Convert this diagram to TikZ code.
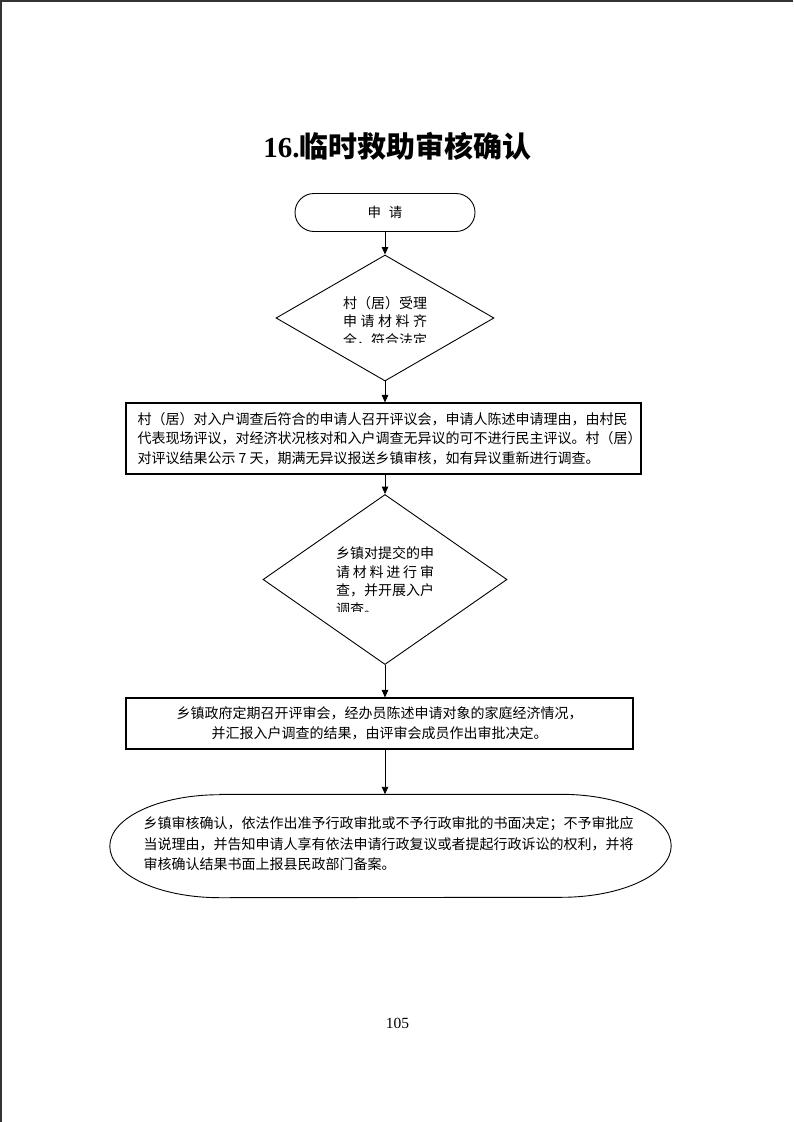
\documentclass[tikz,border=0pt]{standalone}
\usepackage{fontspec}
\setmainfont{Liberation Serif}
\newfontfamily\cjk{Noto Sans CJK SC}
\usetikzlibrary{shapes.geometric,shapes.misc,arrows.meta}
\XeTeXlinebreaklocale "zh"
\XeTeXlinebreakskip=0pt plus 2pt minus 0.6pt
\tikzset{
  term/.style={rounded rectangle, draw, line width=0.9pt, minimum width=180pt, minimum height=38pt, inner sep=0pt, font=\cjk\fontsize{13.5pt}{16pt}\selectfont},
  dia/.style={diamond, draw, line width=0.9pt, inner sep=0pt},
  box/.style={rectangle, draw, line width=1.1pt, inner sep=0pt, align=center},
  txt/.style={inner sep=0pt, align=center},
  arr/.style={line width=0.9pt, -{Triangle[length=7.5pt,width=6.5pt]}},
}
\begin{document}
\begin{tikzpicture}[x=1pt,y=-1pt]
\useasboundingbox (0,0) rectangle (793,1122);
\fill[white] (0,0) rectangle (793,1122);
% page border (top and left)
\draw[line width=1.5pt, black!80] (793,0.75) -- (0.75,0.75) -- (0.75,1122);

% title
\node[inner sep=0pt, font=\bfseries\fontsize{29pt}{32pt}\selectfont] (title) at (397.5,146) {16.{\cjk\bfseries 临时救助审核确认}};

% start
\node[term] (start) at (385,212.5) {申\hspace{8pt}请};

% diamond 1
\node[dia, minimum width=218pt, minimum height=126pt] (d1) at (385,318) {};
\begin{scope}
\clip (0,0) rectangle (793,342.5);
\node[txt, font=\cjk\fontsize{14pt}{18.5pt}\selectfont] (d1t) at (385,321.5)
  {\makebox[84pt][s]{村（居）受理}\\\makebox[84pt][s]{申 请 材 料 齐}\\\makebox[84pt][s]{全，符合法定}};
\end{scope}

% box 2
\node[box, minimum width=515pt, minimum height=71pt, font=\cjk\fontsize{14pt}{19.5pt}\selectfont] (b2) at (383.5,438.5)
  {\makebox[492pt][s]{村（居）对入户调查后符合的申请人召开评议会，申请人陈述申请理由，由村民}\\
   \makebox[492pt][s]{代表现场评议，对经济状况核对和入户调查无异议的可不进行民主评议。村（居）}\\
   \makebox[492pt][l]{对评议结果公示 7 天，期满无异议报送乡镇审核，如有异议重新进行调查。}};

% diamond 2
\node[dia, minimum width=244pt, minimum height=170pt] (d2) at (385,579.5) {};
\begin{scope}
\clip (0,0) rectangle (793,611.5);
\node[txt, font=\cjk\fontsize{14pt}{18.7pt}\selectfont] (d2t) at (385,581)
  {\makebox[98pt][s]{乡镇对提交的申}\\\makebox[98pt][s]{请 材 料 进 行 审}\\\makebox[98pt][s]{查，并开展入户}\\\makebox[98pt][l]{调查。}};
\end{scope}

% box 3
\node[box, minimum width=507pt, minimum height=51pt, font=\cjk\fontsize{14pt}{20pt}\selectfont] (b3) at (379.5,723.5)
  {乡镇政府定期召开评审会，经办员陈述申请对象的家庭经济情况，\\并汇报入户调查的结果，由评审会成员作出审批决定。};

% end shape (wide oval with elliptic ends)
\node[rectangle, inner sep=0pt, minimum width=561pt, minimum height=103pt] (e) at (390.5,846) {};
\draw[line width=0.9pt] ([xshift=110pt]e.north west) -- ([xshift=-110pt]e.north east)
  arc[start angle=90, end angle=-90, x radius=110pt, y radius=51.5pt]
  -- ([xshift=110pt]e.south west)
  arc[start angle=270, end angle=90, x radius=110pt, y radius=51.5pt] -- cycle;
\node[txt, font=\cjk\fontsize{14pt}{20.5pt}\selectfont] (et) at (391,844)
  {\makebox[495pt][s]{乡镇审核确认，依法作出准予行政审批或不予行政审批的书面决定；不予审批应}\\
   \makebox[495pt][s]{当说理由，并告知申请人享有依法申请行政复议或者提起行政诉讼的权利，并将}\\
   \makebox[495pt][l]{审核确认结果书面上报县民政部门备案。}};

% arrows
\draw[arr] (start.south) -- (d1.north);
\draw[arr] (d1.south) -- (d1.south |- b2.north);
\draw[arr] (d2.north |- b2.south) -- (d2.north);
\draw[arr] (d2.south) -- (d2.south |- b3.north);
\draw[arr] (d2.south |- b3.south) -- (d2.south |- e.north);

% page number
\node[inner sep=0pt, font=\fontsize{15.5pt}{18pt}\selectfont] (pg) at (397.5,1023) {105};
\end{tikzpicture}
\end{document}
